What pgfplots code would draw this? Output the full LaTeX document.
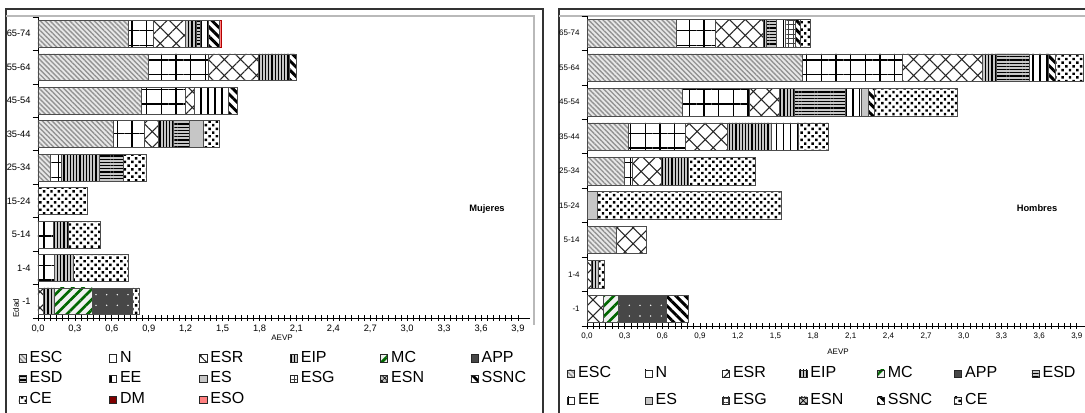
\documentclass[border=0pt]{standalone}
\usepackage{fontspec}
\setmainfont{Liberation Sans}
\usepackage{pgfplots}
\pgfplotsset{compat=1.18}
\usepackage{pgfplotstable}
\usetikzlibrary{patterns,patterns.meta}

\pgfplotstableread{
y ESC N ESR EIP MC APP ESD EE ES ESG ESN SSNC CE DM ESO
0 0 0 0.04 0.09 0.31 0.33 0 0 0 0 0 0 0.05 0 0
1 0 0.13 0 0.16 0 0 0 0 0 0 0 0 0.44 0 0
2 0 0.12 0 0.13 0 0 0 0 0 0 0 0 0.26 0 0
3 0 0 0 0 0 0 0 0 0 0 0 0 0.40 0 0
4 0.10 0.09 0 0.31 0 0 0.19 0 0 0 0 0 0.19 0 0
5 0.61 0.25 0.12 0.12 0 0 0.13 0 0.11 0 0 0 0.13 0 0
6 0.84 0.36 0.07 0 0 0 0 0.28 0 0 0 0.07 0 0 0
7 0.90 0.48 0.41 0.25 0 0 0 0 0 0 0 0.06 0 0 0
8 0.73 0.21 0.26 0.09 0 0 0.03 0.06 0 0 0 0.09 0 0 0.02
}\mujeres

\pgfplotstableread{
y ESC N ESR EIP MC APP ESD EE ES ESG ESN SSNC CE
0 0 0 0.13 0 0.12 0.38 0 0 0 0 0 0.18 0
1 0 0 0.035 0.055 0 0 0 0 0 0 0 0 0.05
2 0.23 0 0.24 0 0 0 0 0 0 0 0 0 0
3 0 0 0 0 0 0 0 0 0.08 0 0 0 1.47
4 0.30 0.06 0.23 0.22 0 0 0 0 0 0 0 0 0.53
5 0.33 0.45 0.34 0.35 0 0 0 0.21 0 0 0 0 0.24
6 0.76 0.53 0.24 0.12 0 0 0.41 0.12 0.06 0 0 0.05 0.66
7 1.71 0.80 0.64 0.11 0 0 0.26 0.15 0 0 0 0.06 0.22
8 0.71 0.31 0.38 0.03 0 0 0.08 0.07 0 0.08 0 0.04 0.08
}\hombres

\tikzset{
 seg/.style={draw=gray!60!black, line width=0.4pt},
 sESC/.style={seg, fill=gray!18, postaction={pattern={Lines[angle=-45,distance=2.6pt,line width=1.05pt]}, pattern color=gray!85}},
 sN/.style={seg, fill=white, postaction={pattern={Hatch[angle=0,distance=11pt,line width=1.1pt]}, pattern color=black}},
 sESR/.style={seg, fill=white, postaction={pattern={Hatch[angle=45,distance=8.5pt,line width=0.8pt]}, pattern color=gray!30!black}},
 sEIP/.style={seg, fill=gray!45, postaction={pattern={Lines[angle=90,distance=2.4pt,line width=0.9pt]}, pattern color=black}},
 sMC/.style={seg, fill=gray!12, postaction={pattern={Lines[angle=45,distance=5.5pt,line width=2pt]}, pattern color=green!40!black}},
 sAPP/.style={seg, fill=black!72, postaction={pattern={Dots[distance=8pt,radius=0.6pt]}, pattern color=white}},
 sESD/.style={seg, fill=gray!45, postaction={pattern={Lines[angle=0,distance=2.4pt,line width=0.9pt]}, pattern color=black}},
 sEE/.style={seg, fill=white, postaction={pattern={Lines[angle=90,distance=5.2pt,line width=1.1pt]}, pattern color=black}},
 sES/.style={seg, fill=gray!45},
 sESG/.style={seg, fill=white, postaction={pattern={Hatch[angle=0,distance=3.5pt,line width=0.6pt]}, pattern color=gray!50!black}},
 sESN/.style={seg, fill=gray!45, postaction={pattern={Hatch[angle=45,distance=3pt,line width=0.5pt]}, pattern color=black}},
 sSSNC/.style={seg, fill=white, postaction={pattern={Lines[angle=-45,distance=5pt,line width=2.2pt]}, pattern color=black}},
 sCE/.style={seg, fill=white, postaction={pattern={Dots[angle=45,distance=3.9pt,radius=1.3pt]}, pattern color=black}},
 sDM/.style={seg, fill=red!50!black},
 sESO/.style={seg, fill=red!50, draw=red!70!black},
}

\pgfplotsset{
 every axis plot/.append style={legend image code/.code={\draw[##1,draw=gray!30!black] (0pt,-2.7pt) rectangle (5.4pt,2.7pt);}},
 base/.style={
  scale only axis, xbar stacked, bar width=0.8,
  xmin=0, xmax=4, ymin=-0.5, ymax=8.5,
  axis x line*=bottom, axis y line*=left,
  axis line style={black, line width=0.6pt},
  xtick={0,0.3,0.6,0.9,1.2,1.5,1.8,2.1,2.4,2.7,3.0,3.3,3.6,3.9},
  minor x tick num=5,
  ytick={0,1,2,3,4,5,6,7,8},
  yticklabels={-1,1-4,5-14,15-24,25-34,35-44,45-54,55-64,65-74},
  minor ytick={-0.5,0.5,1.5,2.5,3.5,4.5,5.5,6.5,7.5,8.5},
  tick align=center,
  major tick length=4pt, minor tick length=4pt,
  major y tick style={draw=none},
  minor y tick style={xshift=-2pt, black, line width=0.5pt},
  x tick style={black, line width=0.55pt},
  /pgf/number format/use comma,
  /pgf/number format/fixed,
  /pgf/number format/fixed zerofill,
  /pgf/number format/precision=1,
  /pgf/number format/assume math mode=true,
  legend cell align=left,
 },
}
\newcommand\LA[1]{\makebox[60pt][l]{\hspace{1.5pt}#1}}
\newcommand\LB[1]{\makebox[50.25pt][l]{\hspace{1.5pt}#1}}

\begin{document}
\begin{tikzpicture}
\useasboundingbox (0,0) rectangle (813.75pt,-309pt);

\begin{scope}[x=0.75pt,y=-0.75pt]
 \draw[line width=1pt, black!80] (6,415) -- (6,9) -- (543,9) -- (543,415);
 \draw[line width=1pt, black!80] (559,415) -- (559,9) -- (1090,9);
 \draw[gray!55, line width=0.8pt] (6,16) -- (534,16) -- (534,325);
 \draw[gray!55, line width=0.8pt] (559,16) -- (1090,16);
\end{scope}

\begin{axis}[base, at={(28.5pt,-238.5pt)}, anchor=south west,
  width=369.2pt, height=225.75pt,
  tick label style={font=\fontsize{7}{8}\selectfont},
  legend columns=6,
  legend style={draw=none, fill=none, at={(axis description cs:-0.04,-0.11)}, anchor=north west,
    font=\fontsize{12}{13}\selectfont, inner sep=0pt, /tikz/column sep=0pt, /tikz/row sep=5pt,
    nodes={inner xsep=1pt, inner ysep=0pt, text height=8pt, text depth=2.4pt}},
  legend entries={\LA{ESC},\LA{N},\LA{ESR},\LA{EIP},\LA{MC},\LA{APP},\LA{ESD},\LA{EE},\LA{ES},\LA{ESG},\LA{ESN},\LA{SSNC},\LA{CE},\LA{DM},\LA{ESO}}]
\addplot[sESC] table[x=ESC,y=y]{\mujeres};
\addplot[sN] table[x=N,y=y]{\mujeres};
\addplot[sESR] table[x=ESR,y=y]{\mujeres};
\addplot[sEIP] table[x=EIP,y=y]{\mujeres};
\addplot[sMC] table[x=MC,y=y]{\mujeres};
\addplot[sAPP] table[x=APP,y=y]{\mujeres};
\addplot[sESD] table[x=ESD,y=y]{\mujeres};
\addplot[sEE] table[x=EE,y=y]{\mujeres};
\addplot[sES] table[x=ES,y=y]{\mujeres};
\addplot[sESG] table[x=ESG,y=y]{\mujeres};
\addplot[sESN] table[x=ESN,y=y]{\mujeres};
\addplot[sSSNC] table[x=SSNC,y=y]{\mujeres};
\addplot[sCE] table[x=CE,y=y]{\mujeres};
\addplot[sDM] table[x=DM,y=y]{\mujeres};
\addplot[sESO] table[x=ESO,y=y]{\mujeres};
\end{axis}

\begin{axis}[base, at={(440.25pt,-244.5pt)}, anchor=south west,
  width=376.8pt, height=232.5pt,
  tick label style={font=\fontsize{6}{7}\selectfont},
  legend columns=7,
  legend style={draw=none, fill=none, at={(axis description cs:-0.04,-0.13)}, anchor=north west,
    font=\fontsize{12}{13}\selectfont, inner sep=0pt, /tikz/column sep=0pt, /tikz/row sep=9.8pt,
    nodes={inner xsep=1pt, inner ysep=0pt, text height=8pt, text depth=2.4pt}},
  legend entries={\LB{ESC},\LB{N},\LB{ESR},\LB{EIP},\LB{MC},\LB{APP},\LB{ESD},\LB{EE},\LB{ES},\LB{ESG},\LB{ESN},\LB{SSNC},\LB{CE}}]
\addplot[sESC] table[x=ESC,y=y]{\hombres};
\addplot[sN] table[x=N,y=y]{\hombres};
\addplot[sESR] table[x=ESR,y=y]{\hombres};
\addplot[sEIP] table[x=EIP,y=y]{\hombres};
\addplot[sMC] table[x=MC,y=y]{\hombres};
\addplot[sAPP] table[x=APP,y=y]{\hombres};
\addplot[sESD] table[x=ESD,y=y]{\hombres};
\addplot[sEE] table[x=EE,y=y]{\hombres};
\addplot[sES] table[x=ES,y=y]{\hombres};
\addplot[sESG] table[x=ESG,y=y]{\hombres};
\addplot[sESN] table[x=ESN,y=y]{\hombres};
\addplot[sSSNC] table[x=SSNC,y=y]{\hombres};
\addplot[sCE] table[x=CE,y=y]{\hombres};
\end{axis}

\begin{scope}[x=0.75pt,y=-0.75pt]
 \node[font=\fontsize{7}{8}\selectfont\bfseries] at (487,209) {Mujeres};
 \node[font=\fontsize{7}{8}\selectfont\bfseries] at (1037,208) {Hombres};
 \node[font=\fontsize{6}{7}\selectfont] at (282,338) {AEVP};
 \node[font=\fontsize{6}{7}\selectfont] at (838,352) {AEVP};
 \node[rotate=90, font=\fontsize{6}{7}\selectfont] at (16,308) {Edad};
\end{scope}
\end{tikzpicture}
\end{document}
